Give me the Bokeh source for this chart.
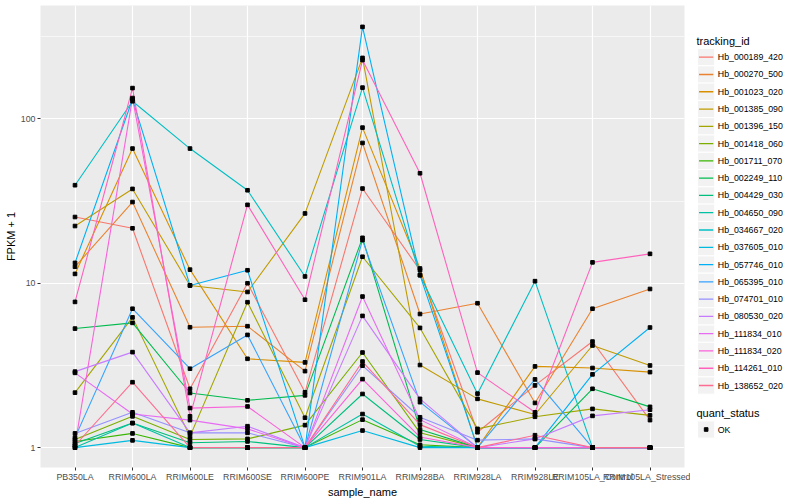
from bokeh.plotting import figure
from bokeh.models import Range1d, FixedTicker, BasicTickFormatter
from bokeh.layouts import row
from bokeh.embed import file_html
from bokeh.resources import INLINE
from bokeh.core.properties import value

categories = ["PB350LA", "RRIM600LA", "RRIM600LE", "RRIM600SE", "RRIM600PE",
              "RRIM901LA", "RRIM928BA", "RRIM928LA", "RRIM928LE",
              "RRIM105LA_Control", "RRIM105LA_Stressed"]

tracking_ids = ["Hb_000189_420", "Hb_000270_500", "Hb_001023_020", "Hb_001385_090",
                "Hb_001396_150", "Hb_001418_060", "Hb_001711_070", "Hb_002249_110",
                "Hb_004429_030", "Hb_004650_090", "Hb_034667_020", "Hb_037605_010",
                "Hb_057746_010", "Hb_065395_010", "Hb_074701_010", "Hb_080530_020",
                "Hb_111834_010", "Hb_111834_020", "Hb_114261_010", "Hb_138652_020"]

colors = ["#F8766D", "#EA8331", "#D89000", "#C09B00", "#A3A500", "#7CAE00", "#39B600",
          "#00BB4E", "#00BF7D", "#00C1A3", "#00BFC4", "#00BAE0", "#00B0F6", "#35A2FF",
          "#9590FF", "#C77CFF", "#E76BF3", "#FA62DB", "#FF62BC", "#FF6C91"]

# FPKM + 1 per tracking_id, in the order of categories
hb_000189_420 = [25.3, 21.6, 2.28, 10.0, 2.17, 37.7, 12.0, 1.24, 2.39, 4.42, 1.47]
hb_000270_500 = [12.6, 31.2, 5.4, 5.48, 2.92, 71.4, 6.5, 7.56, 1.87, 7.0, 9.23]
hb_001023_020 = [11.4, 66.0, 12.1, 3.47, 3.30, 88.5, 12.3, 1.0, 3.12, 3.05, 2.88]
hb_001385_090 = [22.3, 37.5, 9.7, 8.85, 26.6, 235.0, 3.18, 1.98, 1.59, 4.18, 3.16]
hb_001396_150 = [2.16, 6.2, 1.17, 7.67, 1.52, 14.5, 5.35, 1.30, 1.54, 1.72, 1.57]
hb_001418_060 = [1.12, 1.55, 1.12, 1.13, 1.37, 3.79, 1.23, 1.0, 1.0, 1.0, 1.0]
hb_001711_070 = [1.09, 1.22, 1.0, 1.0, 1.0, 1.48, 1.04, 1.0, 1.0, 1.0, 1.0]
hb_002249_110 = [5.3, 5.74, 2.15, 1.94, 2.08, 18.9, 1.29, 1.0, 1.0, 2.28, 1.77]
hb_004429_030 = [1.06, 1.41, 1.07, 1.09, 1.0, 2.12, 1.12, 1.0, 1.0, 1.0, 1.0]
hb_004650_090 = [1.0, 1.41, 1.0, 1.0, 1.0, 1.60, 1.02, 1.0, 1.0, 1.0, 1.0]
hb_034667_020 = [39.5, 128.0, 66.0, 36.8, 11.0, 155.0, 11.2, 2.13, 10.3, 1.0, 1.0]
hb_037605_010 = [1.0, 1.107, 1.0, 1.0, 1.0, 1.27, 1.0, 1.0, 1.0, 1.0, 1.0]
hb_057746_010 = [13.3, 131.6, 9.7, 12.0, 1.0, 363.0, 11.2, 1.0, 1.0, 2.79, 5.38]
hb_065395_010 = [1.15, 7.0, 3.02, 4.85, 1.0, 18.3, 1.89, 1.0, 2.60, 1.0, 1.0]
hb_074701_010 = [1.22, 1.64, 1.23, 1.23, 1.0, 3.15, 1.53, 1.11, 1.13, 1.0, 1.0]
hb_080530_020 = [2.9, 3.81, 1.23, 1.35, 1.0, 6.33, 1.98, 1.0, 1.13, 1.56, 1.70]
hb_111834_010 = [2.85, 1.6, 1.47, 1.30, 1.0, 8.3, 1.48, 1.0, 1.0, 1.0, 1.0]
hb_111834_020 = [1.03, 134.0, 1.74, 1.78, 1.0, 2.61, 1.16, 1.0, 1.0, 1.0, 1.0]
hb_114261_010 = [7.7, 154.0, 1.55, 30.0, 7.94, 228.0, 46.7, 2.86, 1.64, 13.4, 15.1]
hb_138652_020 = [1.03, 2.5, 1.0, 1.0, 1.0, 3.34, 1.38, 1.0, 1.19, 1.0, 1.0]

series = [hb_000189_420, hb_000270_500, hb_001023_020, hb_001385_090, hb_001396_150,
          hb_001418_060, hb_001711_070, hb_002249_110, hb_004429_030, hb_004650_090,
          hb_034667_020, hb_037605_010, hb_057746_010, hb_065395_010, hb_074701_010,
          hb_080530_020, hb_111834_010, hb_111834_020, hb_114261_010, hb_138652_020]

y_ticks = [1, 10, 100]
y_minor = [10 ** 0.5, 10 ** 1.5, 10 ** 2.5]
status_levels = ["OK"]

FONT = "Liberation Sans"
H = 500
W_MAIN = 690
W_LEG = 110
B_TOP = 5
B_BOTTOM = 32

xs = list(range(len(categories)))

p = figure(width=W_MAIN, height=H,
           x_range=Range1d(-0.6, len(categories) - 1 + 0.6),
           y_range=Range1d(10 ** -0.121, 10 ** 2.690),
           y_axis_type="log",
           output_backend="svg", toolbar_location=None,
           min_border_left=40, min_border_right=6, min_border_top=B_TOP,
           min_border_bottom=B_BOTTOM)
p.background_fill_color = "#EBEBEB"
p.border_fill_color = "white"
p.outline_line_color = None

xt = FixedTicker(ticks=xs, minor_ticks=[])
p.xaxis.ticker = xt
p.xgrid.ticker = xt
p.xaxis.major_label_overrides = {i: c for i, c in enumerate(categories)}
yt = FixedTicker(ticks=y_ticks, minor_ticks=y_minor)
p.yaxis.ticker = yt
p.ygrid.ticker = yt
p.yaxis.formatter = BasicTickFormatter()

for g in (p.xgrid, p.ygrid):
    g.grid_line_color = "white"
    g.grid_line_width = 1.2
p.ygrid.minor_grid_line_color = "white"
p.ygrid.minor_grid_line_width = 0.6

for ax in (p.xaxis, p.yaxis):
    ax.axis_line_color = None
    ax.minor_tick_line_color = None
    ax.major_tick_line_color = "#333333"
    ax.major_tick_in = 0
    ax.major_tick_out = 3
    ax.major_label_text_font = FONT
    ax.major_label_text_font_size = "8.8px"
    ax.major_label_text_color = "#4D4D4D"
    ax.major_label_standoff = 1
    ax.axis_label_text_font = FONT
    ax.axis_label_text_font_size = "11px"
    ax.axis_label_text_font_style = "normal"
    ax.axis_label_text_color = "black"
    ax.axis_label_standoff = 1
p.xaxis.axis_label = "sample_name"
p.yaxis.axis_label = "FPKM + 1"

for vals, col in zip(series, colors):
    p.line(xs, vals, line_color=col, line_width=1.1)
for vals in series:
    p.scatter(xs, vals, marker="square", size=3.6, fill_color="black", line_color="black")

# legend panel: frame has the same vertical extent as the main frame,
# coordinates are pixels from the top-left corner of that frame
FH = H - B_TOP - B_BOTTOM
lg = figure(width=W_LEG, height=H, x_range=Range1d(0, W_LEG), y_range=Range1d(FH, 0),
            x_axis_type=None, y_axis_type=None, output_backend="svg", toolbar_location=None,
            min_border_left=0, min_border_right=0, min_border_top=B_TOP,
            min_border_bottom=B_BOTTOM)
lg.outline_line_color = None
lg.grid.visible = False
lg.background_fill_color = "white"
lg.border_fill_color = "white"
for fig in (p, lg):
    if "frame_align" in fig.properties():
        fig.frame_align = False

key = 17.28
kx0 = 7.0
title_y = 40.7 - B_TOP
y0 = 56.7 - B_TOP
lg.text(x=[6], y=[title_y], text=["tracking_id"], text_font=value(FONT), text_font_size="11px",
        text_baseline="middle", text_color="black")
ky = [y0 + key * i for i in range(len(tracking_ids))]
lg.rect(x=[kx0 + key / 2] * len(ky), y=ky, width=key, height=key,
        fill_color="#F2F2F2", line_color="white", line_width=1)
lg.segment(x0=[kx0 + 1.5] * len(ky), y0=ky, x1=[kx0 + key - 1.5] * len(ky), y1=ky,
           line_color=colors, line_width=1.3)
lg.text(x=[kx0 + key + 3] * len(ky), y=ky, text=tracking_ids, text_font=value(FONT),
        text_font_size="8.8px", text_baseline="middle", text_color="black")

qy = 412.7 - B_TOP
lg.text(x=[6], y=[qy], text=["quant_status"], text_font=value(FONT), text_font_size="11px",
        text_baseline="middle", text_color="black")
oy = [qy + 16.3 + key * i for i in range(len(status_levels))]
lg.rect(x=[kx0 + key / 2] * len(oy), y=oy, width=key, height=key,
        fill_color="#F2F2F2", line_color="white", line_width=1)
lg.scatter(x=[kx0 + key / 2] * len(oy), y=oy, marker="square", size=3.6,
           fill_color="black", line_color="black")
lg.text(x=[kx0 + key + 3] * len(oy), y=oy, text=status_levels, text_font=value(FONT),
        text_font_size="8.8px", text_baseline="middle", text_color="black")

layout = row(p, lg)
open("out.html", "w").write(file_html(layout, INLINE))
